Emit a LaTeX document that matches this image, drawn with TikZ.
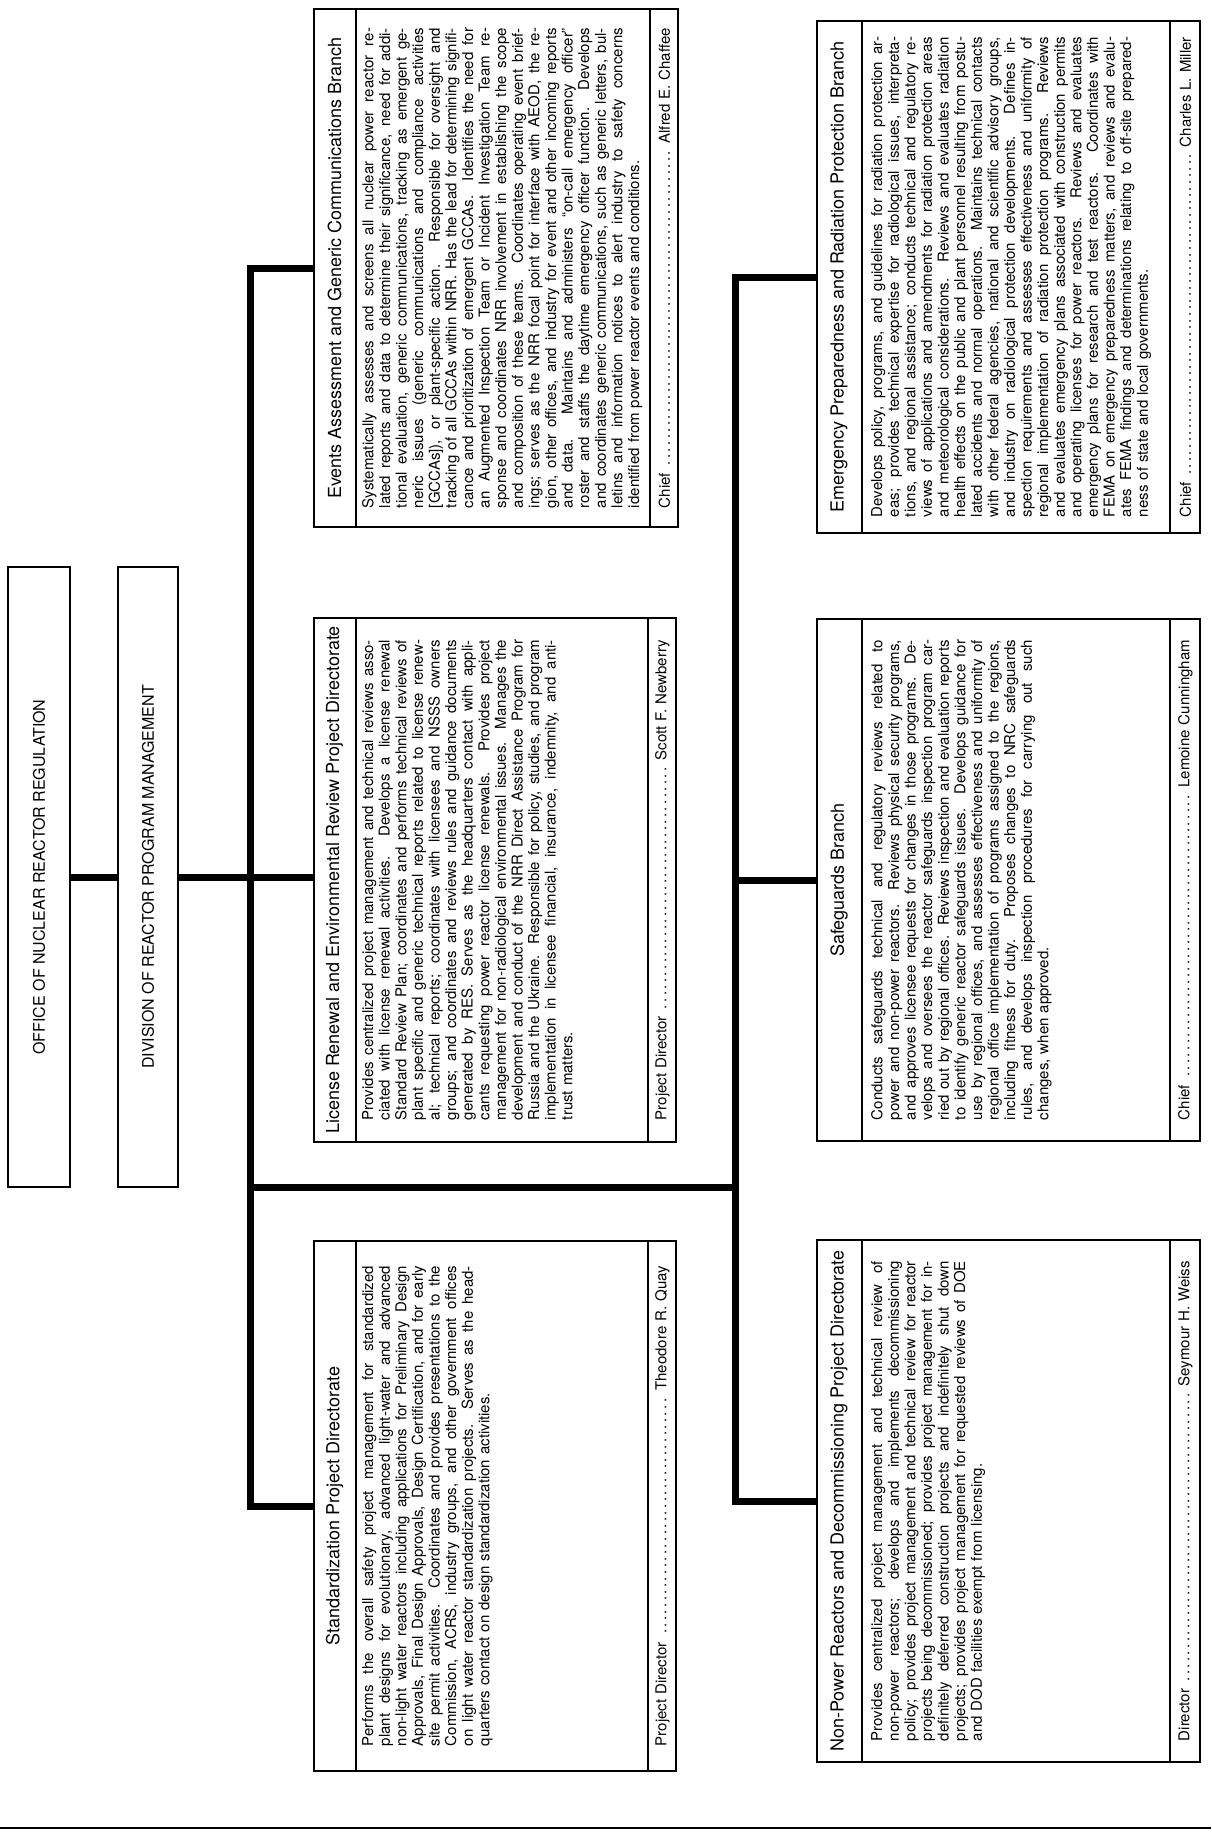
\documentclass[tikz,border=0pt]{standalone}
\usepackage{fontspec}
\setmainfont{TeX Gyre Heros}

\tikzset{
  orgbox/.style={draw, line width=2pt, inner sep=0pt},
  link/.style={line width=7pt},
  unitname/.style={rotate=90, inner sep=0pt, font=\fontsize{16}{18}\selectfont},
  boxtitle/.style={rotate=90, inner sep=0pt, font=\fontsize{18}{20}\selectfont},
  boxbody/.style={rotate=90, inner sep=0pt, anchor=north, text width=480pt, align=left,
    font=\fontsize{15}{16.6}\selectfont},
  boxfoot/.style={rotate=90, inner sep=0pt, text width=480pt, align=left,
    font=\fontsize{15}{17}\selectfont}
}
% one justified line of a description
\newcommand{\jl}[1]{\makebox[\linewidth][s]{\spaceskip=0pt\xspaceskip=0pt\relax #1}\\}
\newcommand{\chiefline}[2]{\makebox[\linewidth][s]{#1 \dotfill\ #2}}

\begin{document}
\begin{tikzpicture}[x=1pt, y=-1pt]
  \useasboundingbox (0,0) rectangle (1211,1845);

  % office and division
  \node[orgbox, minimum width=62pt, minimum height=620pt] (nrr) at (39,877) {};
  \node[unitname] (nrr-name) at (nrr.center) {OFFICE OF NUCLEAR REACTOR REGULATION};
  \node[orgbox, minimum width=60pt, minimum height=620pt] (drpm) at (148,877) {};
  \node[unitname] (drpm-name) at (drpm.center) {DIVISION OF REACTOR PROGRAM MANAGEMENT};

  % first column of branches
  \node[orgbox, minimum width=364pt, minimum height=518pt] (evt) at (496,268) {};
  \node[orgbox, minimum width=362pt, minimum height=524pt] (lic) at (495,880) {};
  \node[orgbox, minimum width=362pt, minimum height=530pt] (std) at (495,1506) {};
  % second column of branches
  \node[orgbox, minimum width=383pt, minimum height=512pt] (emg) at (1008.5,277) {};
  \node[orgbox, minimum width=383pt, minimum height=522pt] (sfg) at (1008.5,880) {};
  \node[orgbox, minimum width=383pt, minimum height=522pt] (npr) at (1008.5,1501) {};

  \foreach \b/\t/\f in {evt/43/29, lic/43/29, std/43/29, emg/46/31, sfg/46/31, npr/46/31}{
    \draw[line width=2pt] ([xshift=\t pt]\b.north west) -- ([xshift=\t pt]\b.south west);
    \draw[line width=2pt] ([xshift=-\f pt]\b.north east) -- ([xshift=-\f pt]\b.south east);
  }

  % Events Assessment
  \node[boxtitle] (evt-title) at ([xshift=21.5pt]evt.west) {Events Assessment and Generic Communications Branch};
  \node[boxbody] (evt-body) at ([xshift=49pt]evt.west) {%
    \jl{Systematically assesses and screens all nuclear power reactor re-}%
    \jl{lated reports and data to determine their significance, need for addi-}%
    \jl{tional evaluation, generic communications, tracking as emergent ge-}%
    \jl{neric issues (generic communications and compliance activities}%
    \jl{[GCCAs]), or plant-specific action. Responsible for oversight and}%
    \jl{tracking of all GCCAs within NRR. Has the lead for determining signifi-}%
    \jl{cance and prioritization of emergent GCCAs. Identifies the need for}%
    \jl{an Augmented Inspection Team or Incident Investigation Team re-}%
    \jl{sponse and coordinates NRR involvement in establishing the scope}%
    \jl{and composition of these teams. Coordinates operating event brief-}%
    \jl{ings; serves as the NRR focal point for interface with AEOD, the re-}%
    \jl{gion, other offices, and industry for event and other incoming reports}%
    \jl{and data. Maintains and administers ``on-call emergency officer''}%
    \jl{roster and staffs the daytime emergency officer function. Develops}%
    \jl{and coordinates generic communications, such as generic letters, bul-}%
    \jl{letins and information notices to alert industry to safety concerns}%
    identified from power reactor events and conditions.};
  \node[boxfoot] (evt-foot) at ([xshift=-14.5pt]evt.east) {\chiefline{Chief}{Alfred E. Chaffee}};

  % License Renewal
  \node[boxtitle] (lic-title) at ([xshift=21.5pt]lic.west) {License Renewal and Environmental Review Project Directorate};
  \node[boxbody] (lic-body) at ([xshift=49pt]lic.west) {%
    \jl{Provides centralized project management and technical reviews asso-}%
    \jl{ciated with license renewal activities. Develops a license renewal}%
    \jl{Standard Review Plan; coordinates and performs technical reviews of}%
    \jl{plant specific and generic technical reports related to license renew-}%
    \jl{al; technical reports; coordinates with licensees and NSSS owners}%
    \jl{groups; and coordinates and reviews rules and guidance documents}%
    \jl{generated by RES. Serves as the headquarters contact with appli-}%
    \jl{cants requesting power reactor license renewals. Provides project}%
    \jl{management for non-radiological environmental issues. Manages the}%
    \jl{development and conduct of the NRR Direct Assistance Program for}%
    \jl{Russia and the Ukraine. Responsible for policy, studies, and program}%
    \jl{implementation in licensee financial, insurance, indemnity, and anti-}%
    trust matters.};
  \node[boxfoot] (lic-foot) at ([xshift=-14.5pt]lic.east) {\chiefline{Project Director}{Scott F. Newberry}};

  % Standardization
  \node[boxtitle] (std-title) at ([xshift=21.5pt]std.west) {Standardization Project Directorate};
  \node[boxbody] (std-body) at ([xshift=49pt]std.west) {%
    \jl{Performs the overall safety project management for standardized}%
    \jl{plant designs for evolutionary, advanced light-water and advanced}%
    \jl{non-light water reactors including applications for Preliminary Design}%
    \jl{Approvals, Final Design Approvals, Design Certification, and for early}%
    \jl{site permit activities. Coordinates and provides presentations to the}%
    \jl{Commission, ACRS, industry groups, and other government offices}%
    \jl{on light water reactor standardization projects. Serves as the head-}%
    quarters contact on design standardization activities.};
  \node[boxfoot] (std-foot) at ([xshift=-14.5pt]std.east) {\chiefline{Project Director}{Theodore R. Quay}};

  % Emergency Preparedness
  \node[boxtitle] (emg-title) at ([xshift=23pt]emg.west) {Emergency Preparedness and Radiation Protection Branch};
  \node[boxbody] (emg-body) at ([xshift=55pt]emg.west) {%
    \jl{Develops policy, programs, and guidelines for radiation protection ar-}%
    \jl{eas; provides technical expertise for radiological issues, interpreta-}%
    \jl{tions, and regional assistance; conducts technical and regulatory re-}%
    \jl{views of applications and amendments for radiation protection areas}%
    \jl{and meteorological considerations. Reviews and evaluates radiation}%
    \jl{health effects on the public and plant personnel resulting from postu-}%
    \jl{lated accidents and normal operations. Maintains technical contacts}%
    \jl{with other federal agencies, national and scientific advisory groups,}%
    \jl{and industry on radiological protection developments. Defines in-}%
    \jl{spection requirements and assesses effectiveness and uniformity of}%
    \jl{regional implementation of radiation protection programs. Reviews}%
    \jl{and evaluates emergency plans associated with construction permits}%
    \jl{and operating licenses for power reactors. Reviews and evaluates}%
    \jl{emergency plans for research and test reactors. Coordinates with}%
    \jl{FEMA on emergency preparedness matters, and reviews and evalu-}%
    \jl{ates FEMA findings and determinations relating to off-site prepared-}%
    ness of state and local governments.};
  \node[boxfoot] (emg-foot) at ([xshift=-15.5pt]emg.east) {\chiefline{Chief}{Charles L. Miller}};

  % Safeguards
  \node[boxtitle] (sfg-title) at ([xshift=23pt]sfg.west) {Safeguards Branch};
  \node[boxbody] (sfg-body) at ([xshift=55pt]sfg.west) {%
    \jl{Conducts safeguards technical and regulatory reviews related to}%
    \jl{power and non-power reactors. Reviews physical security programs,}%
    \jl{and approves licensee requests for changes in those programs. De-}%
    \jl{velops and oversees the reactor safeguards inspection program car-}%
    \jl{ried out by regional offices. Reviews inspection and evaluation reports}%
    \jl{to identify generic reactor safeguards issues. Develops guidance for}%
    \jl{use by regional offices, and assesses effectiveness and uniformity of}%
    \jl{regional office implementation of programs assigned to the regions,}%
    \jl{including fitness for duty. Proposes changes to NRC safeguards}%
    \jl{rules, and develops inspection procedures for carrying out such}%
    changes, when approved.};
  \node[boxfoot] (sfg-foot) at ([xshift=-15.5pt]sfg.east) {\chiefline{Chief}{Lemoine Cunningham}};

  % Non-Power Reactors
  \node[boxtitle] (npr-title) at ([xshift=23pt]npr.west) {Non-Power Reactors and Decommissioning Project Directorate};
  \node[boxbody] (npr-body) at ([xshift=55pt]npr.west) {%
    \jl{Provides centralized project management and technical review of}%
    \jl{non-power reactors; develops and implements decommissioning}%
    \jl{policy; provides project management and technical review for reactor}%
    \jl{projects being decommissioned; provides project management for in-}%
    \jl{definitely deferred construction projects and indefinitely shut down}%
    \jl{projects; provides project management for requested reviews of DOE}%
    and DOD facilities exempt from licensing.};
  \node[boxfoot] (npr-foot) at ([xshift=-15.5pt]npr.east) {\chiefline{Director}{Seymour H. Weiss}};

  % connectors
  \coordinate (j1) at (250,877);
  \coordinate (j2) at (250,1187);
  \coordinate (j3) at (735,1187);
  \draw[link] (nrr.east) -- (drpm.west);
  \draw[link] (drpm.east) -- (drpm.east -| lic.west);
  \draw[link] (evt.west) -| (j1) |- (std.west);
  \draw[link] (j2) -- (j3);
  \draw[link] (emg.west) -| (j3) |- (npr.west);
  \draw[link] (sfg.west -| j3) -- (sfg.west);

  % rule at the foot of the page
  \coordinate (rule-l) at (0,1828);
  \coordinate (rule-r) at (1211,1828);
  \draw[line width=2.5pt] (rule-l) -- (rule-r);
\end{tikzpicture}
\end{document}
